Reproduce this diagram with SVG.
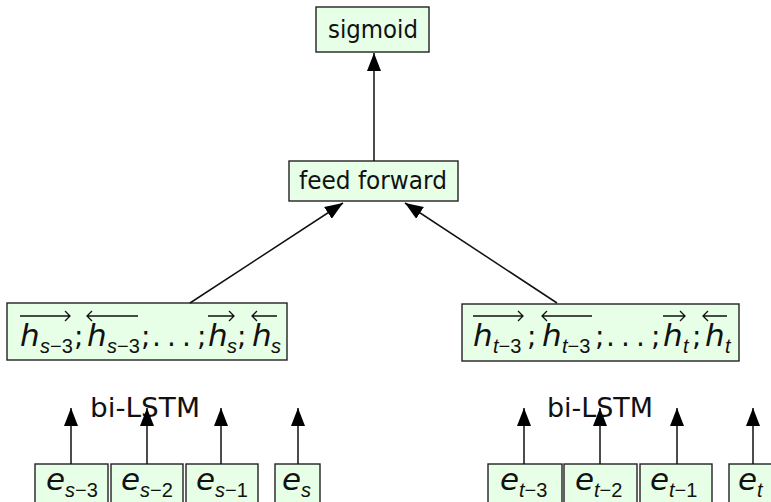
<svg xmlns="http://www.w3.org/2000/svg" width="771" height="502" viewBox="0 0 771 502">
<style>
.box{fill:#e6ffe6;stroke:#222;stroke-width:1.4}
.lbl{font-family:"DejaVu Sans",sans-serif;font-size:25px;fill:#111}
.bl{font-family:"DejaVu Sans",sans-serif;font-size:26px;fill:#111}
.m{font-family:"DejaVu Sans",sans-serif;font-style:italic;font-size:31px;fill:#111}
.s{font-family:"Liberation Sans",sans-serif;font-style:italic;font-size:20px}
.n{font-style:normal}
.p{font-family:"DejaVu Sans",sans-serif;font-style:normal;font-size:28px}
.ov{fill:none;stroke:#111;stroke-width:1.3}
.c{fill:none;stroke:#111;stroke-width:1.5}
</style>
<defs>
<marker id="ah" markerUnits="userSpaceOnUse" markerWidth="20" markerHeight="16" refX="18" refY="7" orient="auto">
<path d="M0 0 L18 7 L0 14 Z" fill="#000"/>
</marker>
</defs>

<g id="sigmoid">
<rect class="box" x="316" y="7" width="113" height="45"/>
<text class="lbl" x="328" y="38" textLength="90" lengthAdjust="spacingAndGlyphs">sigmoid</text>
</g>

<g id="feedforward">
<rect class="box" x="289" y="161" width="169" height="40"/>
<text class="lbl" x="299" y="189" textLength="148" lengthAdjust="spacingAndGlyphs">feed forward</text>
</g>

<g id="hs">
<rect class="box" x="7" y="303" width="280" height="57"/>
<path class="ov" d="M20 316 H70 M65 311 L70 316 L65 321"/>
<path class="ov" d="M87 316 H138 M92 311 L87 316 L92 321"/>
<path class="ov" d="M208 316 H234 M229 311 L234 316 L229 321"/>
<path class="ov" d="M252 316 H277 M257 311 L252 316 L257 321"/>
<text class="m" y="346"><tspan x="20">h</tspan><tspan class="s" x="40" y="353">s<tspan class="n">−3</tspan></tspan><tspan class="p" x="74" y="346">;</tspan><tspan x="87">h</tspan><tspan class="s" x="107" y="353">s<tspan class="n">−3</tspan></tspan><tspan class="p" x="141" y="346">;</tspan><tspan class="p" x="152 167 182 197">...;</tspan><tspan x="208">h</tspan><tspan class="s" x="227" y="353">s</tspan><tspan class="p" x="237" y="346">;</tspan><tspan x="252">h</tspan><tspan class="s" x="271" y="353">s</tspan></text>
</g>

<g id="ht">
<rect class="box" x="462" y="304" width="277" height="57"/>
<path class="ov" d="M473 316 H523 M518 311 L523 316 L518 321"/>
<path class="ov" d="M542 316 H592 M547 311 L542 316 L547 321"/>
<path class="ov" d="M663 316 H685 M680 311 L685 316 L680 321"/>
<path class="ov" d="M703 316 H727 M708 311 L703 316 L708 321"/>
<text class="m" y="346"><tspan x="473">h</tspan><tspan class="s" x="493" y="353">t<tspan class="n">−3</tspan></tspan><tspan class="p" x="527" y="346">;</tspan><tspan x="542">h</tspan><tspan class="s" x="562" y="353">t<tspan class="n">−3</tspan></tspan><tspan class="p" x="595" y="346">;</tspan><tspan class="p" x="606 621 636 651">...;</tspan><tspan x="663">h</tspan><tspan class="s" x="683" y="353">t</tspan><tspan class="p" x="692" y="346">;</tspan><tspan x="705">h</tspan><tspan class="s" x="725" y="353">t</tspan></text>
</g>

<g id="bilstm-s">
<text class="bl" x="90" y="417" textLength="110" lengthAdjust="spacingAndGlyphs">bi-LSTM</text>
</g>
<g id="bilstm-t">
<text class="bl" x="547" y="417" textLength="106" lengthAdjust="spacingAndGlyphs">bi-LSTM</text>
</g>

<g id="es3"><rect class="box" x="35" y="464" width="73" height="50"/><text class="m" x="46" y="490">e<tspan class="s" x="65" y="497">s<tspan class="n">−3</tspan></tspan></text></g>
<g id="es2"><rect class="box" x="111" y="464" width="72" height="50"/><text class="m" x="121" y="490">e<tspan class="s" x="140" y="497">s<tspan class="n">−2</tspan></tspan></text></g>
<g id="es1"><rect class="box" x="186" y="464" width="72" height="50"/><text class="m" x="196" y="490">e<tspan class="s" x="215" y="497">s<tspan class="n">−1</tspan></tspan></text></g>
<g id="es"><rect class="box" x="275" y="464" width="45" height="50"/><text class="m" x="282" y="490">e<tspan class="s" x="301" y="497">s</tspan></text></g>

<g id="et3"><rect class="box" x="488" y="464" width="74" height="50"/><text class="m" x="500" y="490">e<tspan class="s" x="519" y="497">t<tspan class="n">−3</tspan></tspan></text></g>
<g id="et2"><rect class="box" x="564" y="464" width="73" height="50"/><text class="m" x="575" y="490">e<tspan class="s" x="594" y="497">t<tspan class="n">−2</tspan></tspan></text></g>
<g id="et1"><rect class="box" x="640" y="464" width="72" height="50"/><text class="m" x="650" y="490">e<tspan class="s" x="669" y="497">t<tspan class="n">−1</tspan></tspan></text></g>
<g id="et"><rect class="box" x="729" y="464" width="60" height="50"/><text class="m" x="738" y="490">e<tspan class="s" x="757" y="497">t</tspan></text></g>

<g id="connectors">
<line class="c" x1="374" y1="161" x2="374" y2="53" marker-end="url(#ah)"/>
<line class="c" x1="190" y1="303" x2="343" y2="203" marker-end="url(#ah)"/>
<line class="c" x1="557" y1="303" x2="405" y2="203" marker-end="url(#ah)"/>
<line class="c" x1="71" y1="464" x2="71" y2="408" marker-end="url(#ah)"/>
<line class="c" x1="147" y1="464" x2="147" y2="408" marker-end="url(#ah)"/>
<line class="c" x1="221" y1="464" x2="221" y2="408" marker-end="url(#ah)"/>
<line class="c" x1="298" y1="464" x2="298" y2="408" marker-end="url(#ah)"/>
<line class="c" x1="524" y1="464" x2="524" y2="408" marker-end="url(#ah)"/>
<line class="c" x1="600" y1="464" x2="600" y2="408" marker-end="url(#ah)"/>
<line class="c" x1="677" y1="464" x2="677" y2="408" marker-end="url(#ah)"/>
<line class="c" x1="753" y1="464" x2="753" y2="408" marker-end="url(#ah)"/>
</g>
</svg>
